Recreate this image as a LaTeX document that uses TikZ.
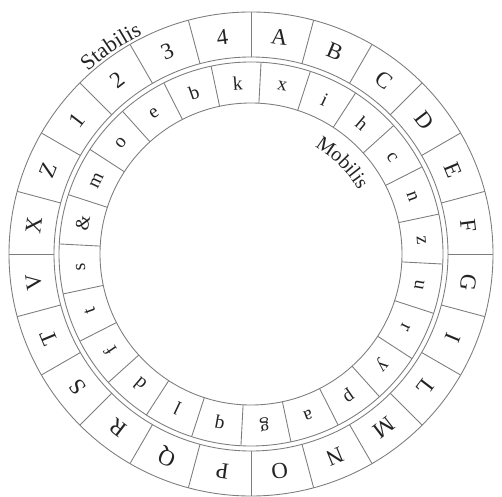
\documentclass[tikz,border=0pt]{standalone}
\usepackage{fontspec}
\setmainfont{Liberation Serif}
\usepackage{tikz}
\usetikzlibrary{decorations.text}
\definecolor{ringgray}{RGB}{125,125,125}
\definecolor{inkdark}{RGB}{35,35,35}
\tikzset{
  ring/.style={draw=ringgray, line width=0.5pt},
  bigletter/.style={font=\fontsize{13}{13}\selectfont, text=inkdark, inner sep=0pt},
  smallletter/.style={font=\fontsize{11}{11}\selectfont, text=inkdark, inner sep=0pt}
}
\begin{document}
\begin{tikzpicture}[x=0.02cm, y=0.02cm]
  \useasboundingbox (-251,-242) rectangle (251,254);

  % Circles of the two rings
  \draw[ring] (0,0) circle (242);
  \draw[ring] (0,0) circle (197);
  \draw[ring] (0,0) circle (192);
  \draw[ring] (0,0) circle (151);

  % Cell borders, outer (fixed) ring
  \foreach \k in {0,...,23}
    \draw[ring] (\k*15:197) -- (\k*15:242);
  % Cell borders, inner (moving) ring
  \foreach \k in {0,...,23}
    \draw[ring] (87-\k*15:151) -- (87-\k*15:192);

  % Outer letters
  \foreach \ch [count=\i from 0] in {A,B,C,D,E,F,G,I,L,M,N,O,P,Q,R,S,T,V,X,Z,1,2,3,4}
    \node[bigletter, rotate={-7.5-15*\i}] (out-\i) at ({82.5-15*\i}:219) {\ch};

  % Inner letters
  \foreach \ch [count=\i from 0] in {x,i,h,c,n,z,u,r,y,p,a,g,q,l,d,f,t,s,\&,m,o,e,b,k}
    \node[smallletter, rotate={-10.5-15*\i}] (in-\i) at ({79.5-15*\i}:171) {\ch};

  % Ring names
  \path[decorate, decoration={text along path, text color=inkdark,
      text={|\fontsize{12.5}{12.5}\selectfont|Stabilis}, text align=center}]
    (144:245) arc[start angle=144, end angle=104, radius=245];
  \path[decorate, decoration={text along path, text color=inkdark,
      text={|\fontsize{11.5}{11.5}\selectfont|Mobilis}, text align=center}]
    (65:125) arc[start angle=65, end angle=25, radius=125];
\end{tikzpicture}
\end{document}
